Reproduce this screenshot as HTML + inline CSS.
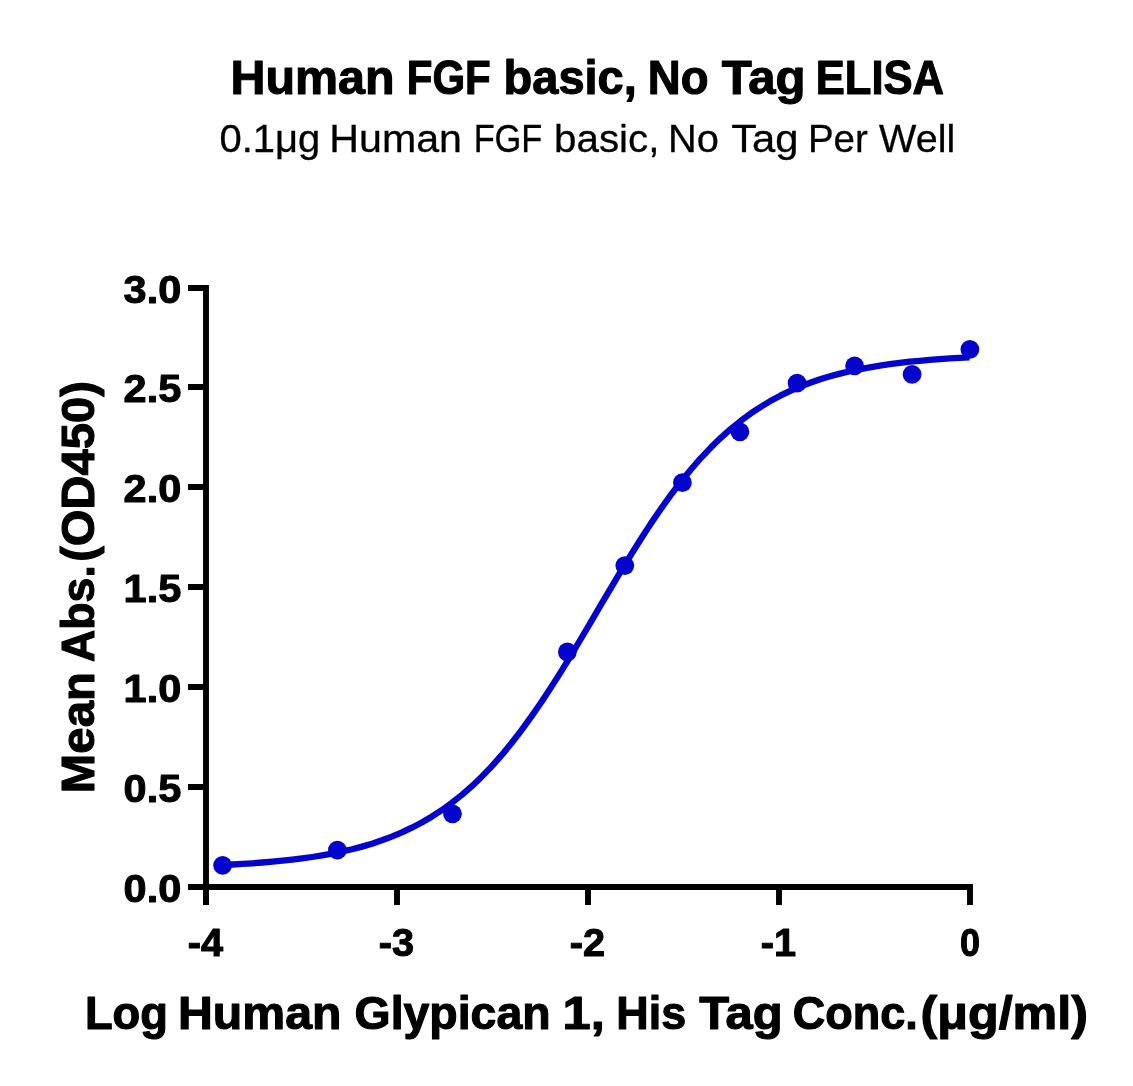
<!DOCTYPE html>
<html lang="en">
<head>
<meta charset="utf-8">
<title>Human FGF basic, No Tag ELISA</title>
<style>
  html, body { margin: 0; padding: 0; background: #ffffff; }
  body { width: 1133px; height: 1086px; overflow: hidden; }
  svg { display: block; }
  text { font-family: "Liberation Sans", sans-serif; fill: #000000; }
  .b { font-weight: 700; stroke: #000000; stroke-width: 1.1px; stroke-linejoin: round; }
  .s { stroke: #000000; stroke-width: 0.3px; stroke-linejoin: round; }
  .tick { font-weight: 700; font-size: 38.1px; stroke: #000000; stroke-width: 1.0px; stroke-linejoin: round; }
</style>
</head>
<body>
<svg width="1133" height="1086" viewBox="0 0 1133 1086">
  <rect x="0" y="0" width="1133" height="1086" fill="#ffffff"/>

  <!-- titles -->
  <text class="b" y="94.0" font-size="47.4"><tspan x="230.49" textLength="164.05" lengthAdjust="spacingAndGlyphs">Human</tspan> <tspan x="406.79" textLength="84.0" lengthAdjust="spacingAndGlyphs">FGF</tspan> <tspan x="503.58" textLength="133.21" lengthAdjust="spacingAndGlyphs">basic,</tspan> <tspan x="647.76" textLength="60.8" lengthAdjust="spacingAndGlyphs">No</tspan> <tspan x="721.75" textLength="83.76" lengthAdjust="spacingAndGlyphs">Tag</tspan> <tspan x="815.69" textLength="128.39" lengthAdjust="spacingAndGlyphs">ELISA</tspan></text>
  <text class="s" y="151.6" font-size="39.4"><tspan x="219.44" textLength="100.85" lengthAdjust="spacingAndGlyphs">0.1μg</tspan> <tspan x="329.31" textLength="132.73" lengthAdjust="spacingAndGlyphs">Human</tspan> <tspan x="473.63" textLength="68.74" lengthAdjust="spacingAndGlyphs">FGF</tspan> <tspan x="554.1" textLength="105.26" lengthAdjust="spacingAndGlyphs">basic,</tspan> <tspan x="668.02" textLength="50.85" lengthAdjust="spacingAndGlyphs">No</tspan> <tspan x="731.15" textLength="67.42" lengthAdjust="spacingAndGlyphs">Tag</tspan> <tspan x="807.92" textLength="59.95" lengthAdjust="spacingAndGlyphs">Per</tspan> <tspan x="879.05" textLength="76.16" lengthAdjust="spacingAndGlyphs">Well</tspan></text>

  <!-- axes -->
  <g fill="none" stroke="#000000" stroke-width="5.9">
    <path d="M206,285.05V905" />
    <path d="M188,887H972.95" />
    <path d="M188,288.0H206 M188,387.0H206 M188,487.0H206 M188,587.0H206 M188,687.0H206 M188,787.0H206 M188,887.0H206 M206.0,887V905 M397.0,887V905 M588.0,887V905 M779.0,887V905 M970.0,887V905" />
  </g>

  <!-- y tick labels -->
  <g class="tick">
    <text x="181.2" y="303.2" text-anchor="end" textLength="57.6" lengthAdjust="spacingAndGlyphs">3.0</text>
    <text x="181.2" y="402.2" text-anchor="end" textLength="57.6" lengthAdjust="spacingAndGlyphs">2.5</text>
    <text x="181.2" y="502.2" text-anchor="end" textLength="57.6" lengthAdjust="spacingAndGlyphs">2.0</text>
    <text x="181.2" y="602.2" text-anchor="end" textLength="57.6" lengthAdjust="spacingAndGlyphs">1.5</text>
    <text x="181.2" y="702.2" text-anchor="end" textLength="57.6" lengthAdjust="spacingAndGlyphs">1.0</text>
    <text x="181.2" y="802.2" text-anchor="end" textLength="57.6" lengthAdjust="spacingAndGlyphs">0.5</text>
    <text x="181.2" y="902.2" text-anchor="end" textLength="57.6" lengthAdjust="spacingAndGlyphs">0.0</text>
  </g>

  <!-- x tick labels -->
  <g class="tick">
    <text x="205.4" y="955.6" text-anchor="middle" textLength="35.3" lengthAdjust="spacingAndGlyphs">-4</text>
    <text x="396.4" y="955.6" text-anchor="middle" textLength="35.3" lengthAdjust="spacingAndGlyphs">-3</text>
    <text x="587.4" y="955.6" text-anchor="middle" textLength="35.3" lengthAdjust="spacingAndGlyphs">-2</text>
    <text x="778.4" y="955.6" text-anchor="middle" textLength="35.3" lengthAdjust="spacingAndGlyphs">-1</text>
    <text x="970.0" y="955.6" text-anchor="middle" textLength="20.0" lengthAdjust="spacingAndGlyphs">0</text>
  </g>

  <!-- axis titles -->
  <text class="b" y="1029.3" font-size="45.4"><tspan x="84.96" textLength="83.02" lengthAdjust="spacingAndGlyphs">Log</tspan> <tspan x="177.96" textLength="163.49" lengthAdjust="spacingAndGlyphs">Human</tspan> <tspan x="354.53" textLength="196.11" lengthAdjust="spacingAndGlyphs">Glypican</tspan> <tspan x="562.52" textLength="42.25" lengthAdjust="spacingAndGlyphs">1,</tspan> <tspan x="616.29" textLength="69.79" lengthAdjust="spacingAndGlyphs">His</tspan> <tspan x="699.25" textLength="83.44" lengthAdjust="spacingAndGlyphs">Tag</tspan> <tspan x="792.66" textLength="125.08" lengthAdjust="spacingAndGlyphs">Conc.</tspan><tspan x="920.44" textLength="167.56" lengthAdjust="spacingAndGlyphs">(μg/ml)</tspan></text>
  <text class="b" transform="rotate(-90)" y="93.7" font-size="47.0"><tspan x="-793.18" textLength="121.16" lengthAdjust="spacingAndGlyphs">Mean</tspan> <tspan x="-662.0" textLength="96.86" lengthAdjust="spacingAndGlyphs">Abs.</tspan><tspan x="-561.86" textLength="180.76" lengthAdjust="spacingAndGlyphs">(OD450)</tspan></text>

  <!-- fitted curve -->
  <path d="M222.6,865.0 L232.6,864.5 L242.5,863.9 L252.5,863.3 L262.4,862.5 L272.4,861.7 L282.4,860.7 L292.3,859.6 L302.3,858.4 L312.2,857.0 L322.2,855.4 L332.1,853.6 L342.1,851.5 L352.1,849.2 L362.0,846.6 L372.0,843.7 L381.9,840.3 L391.9,836.6 L401.9,832.4 L411.8,827.7 L421.8,822.5 L431.7,816.7 L441.7,810.2 L451.6,803.0 L461.6,795.1 L471.6,786.4 L481.5,776.9 L491.5,766.6 L501.4,755.4 L511.4,743.3 L521.4,730.4 L531.3,716.7 L541.3,702.3 L551.2,687.1 L561.2,671.4 L571.2,655.1 L581.1,638.5 L591.1,621.7 L601.0,604.7 L611.0,587.9 L620.9,571.2 L630.9,554.8 L640.9,539.0 L650.8,523.6 L660.8,509.0 L670.7,495.1 L680.7,482.0 L690.7,469.7 L700.6,458.3 L710.6,447.8 L720.5,438.1 L730.5,429.2 L740.5,421.1 L750.4,413.7 L760.4,407.1 L770.3,401.1 L780.3,395.7 L790.2,390.9 L800.2,386.6 L810.2,382.8 L820.1,379.3 L830.1,376.3 L840.0,373.6 L850.0,371.2 L860.0,369.1 L869.9,367.3 L879.9,365.6 L889.8,364.2 L899.8,362.9 L909.7,361.7 L919.7,360.8 L929.7,359.9 L939.6,359.1 L949.6,358.4 L959.5,357.8 L969.5,357.3" fill="none" stroke="#0404cc" stroke-width="6.3" stroke-linejoin="round" stroke-linecap="butt"/>

  <!-- data points -->
  <g fill="#0404cc">
    <circle cx="222.6" cy="865.3" r="9.4"/>
    <circle cx="337.4" cy="850.1" r="9.4"/>
    <circle cx="452.5" cy="813.8" r="9.4"/>
    <circle cx="567.4" cy="652.0" r="9.4"/>
    <circle cx="624.8" cy="565.6" r="9.4"/>
    <circle cx="682.4" cy="482.7" r="9.4"/>
    <circle cx="739.9" cy="431.8" r="9.4"/>
    <circle cx="797.1" cy="383.1" r="9.4"/>
    <circle cx="854.6" cy="365.8" r="9.4"/>
    <circle cx="912.1" cy="374.4" r="9.4"/>
    <circle cx="969.9" cy="349.3" r="9.4"/>
  </g>
</svg>
</body>
</html>
